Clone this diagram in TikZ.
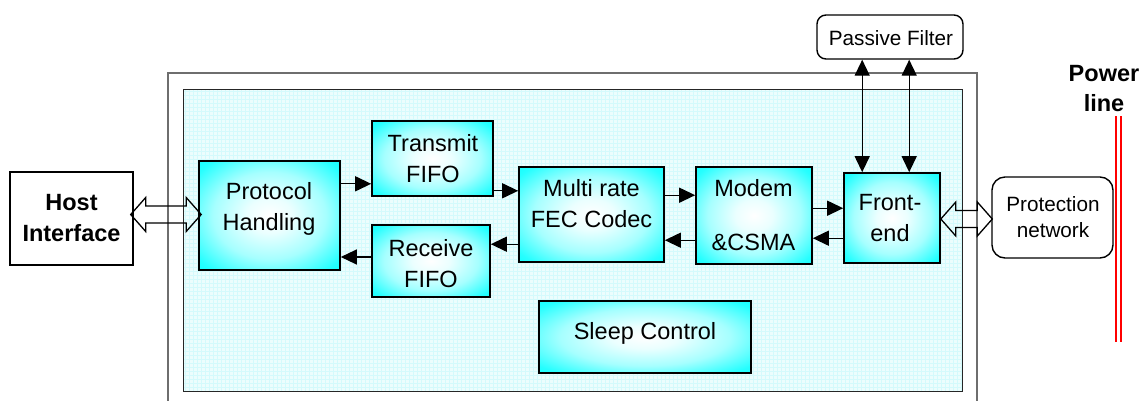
\documentclass[tikz,border=0pt]{standalone}
\usepackage{fontspec}
\setmainfont{Liberation Sans}
\usetikzlibrary{calc,arrows.meta}
\definecolor{bgfill}{RGB}{236,253,253}
\definecolor{bggrid}{RGB}{212,250,252}
\definecolor{framegray}{RGB}{110,110,110}
\definecolor{boxcyan}{RGB}{0,255,255}
\pgfdeclareradialshading{boxshade}{\pgfpoint{0bp}{0bp}}{%
  color(0bp)=(white); color(8bp)=(boxcyan!8); color(20bp)=(boxcyan!35); color(32bp)=(boxcyan!85); color(40bp)=(boxcyan); color(50bp)=(boxcyan)}
\tikzset{
  blk/.style={draw=black, line width=1.6pt, inner sep=0pt, shading=boxshade},
  wbox/.style={draw=black, line width=1.4pt, fill=white, inner sep=0pt},
  rbox/.style={draw=black, line width=1.4pt, fill=white, rounded corners=9pt, inner sep=0pt},
  txt/.style={font=\fontsize{23.5}{31}\selectfont, align=center, inner sep=0pt, anchor=north},
  stxt/.style={font=\fontsize{20.7}{26}\selectfont, align=center, inner sep=0pt, anchor=north},
  arr/.style={line width=1.3pt, -{Triangle[length=16pt,width=15pt]}},
  darr/.style={line width=1.3pt, {Triangle[length=16pt,width=15pt]}-{Triangle[length=16pt,width=15pt]}},
  hollow/.style={line width=1.3pt, draw=black, line join=miter},
}
\newcommand{\hollowarrow}[2]{%
  \draw[hollow] let \p1=(#1), \p2=(#2) in
    (\x1,\y1) -- (\x1+15pt,\y1+17pt) -- (\x1+15pt,\y1+8.5pt) -- (\x2-15pt,\y1+8.5pt)
    -- (\x2-15pt,\y1+17pt) -- (\x2,\y1) -- (\x2-15pt,\y1-17pt) -- (\x2-15pt,\y1-8.5pt)
    -- (\x1+15pt,\y1-8.5pt) -- (\x1+15pt,\y1-17pt) -- cycle;}
\begin{document}
\begin{tikzpicture}[x=1pt,y=-1pt]
\useasboundingbox (0,0) rectangle (1141,400);
% outer frame and inner area
\draw[framegray, line width=1.3pt] (168,410) -- (168,73) -- (977,73) -- (977,410);
\fill[bgfill] (183,89) rectangle (962,391);
\begin{scope}
  \clip (183,89) rectangle (962,391);
  \foreach \gx in {185,189,...,962} \draw[bggrid, line width=0.5pt] (\gx,89) -- (\gx,391);
  \foreach \gy in {91,95,...,391} \draw[bggrid, line width=0.5pt] (183,\gy) -- (962,\gy);
\end{scope}
\draw[black!85, line width=1pt] (183,89) rectangle (962,391);

% boxes
\node[wbox, minimum width=123pt, minimum height=93pt] (host) at (71.5,218.5) {};
\node[blk, minimum width=141pt, minimum height=109pt] (proto) at (269.5,215.5) {};
\node[blk, minimum width=121pt, minimum height=75pt] (tx) at (432.5,158.5) {};
\node[blk, minimum width=118pt, minimum height=72pt] (rx) at (431,261) {};
\node[blk, minimum width=145pt, minimum height=95pt] (fec) at (591.5,214.5) {};
\node[blk, minimum width=116pt, minimum height=97pt] (modem) at (754,215.5) {};
\node[blk, minimum width=96pt, minimum height=90pt] (fe) at (892,218) {};
\node[blk, minimum width=212pt, minimum height=72pt] (sleep) at (645,337) {};
\node[rbox, minimum width=146pt, minimum height=44pt] (pf) at (890,37) {};
\node[rbox, rounded corners=13pt, minimum width=121pt, minimum height=81pt] (prot) at (1052.5,217.5) {};

% texts
\node[txt, font=\fontsize{23.5}{31}\selectfont\bfseries] (hostT) at (71.5,188.3) {\strut Host\\Interface};
\node[txt] (protoT) at (269,177.3) {\strut Protocol\\Handling};
\node[txt] (txT) at (433,129.3) {\strut Transmit\\FIFO};
\node[txt] (rxT) at (431,234.3) {\strut Receive\\FIFO};
\node[txt] (fecT) at (591.5,174.3) {\strut Multi rate\\FEC Codec};
\node[txt] (modemT) at (753.5,174.3) {\strut Modem\\[23pt]\&CSMA};
\node[txt] (feT) at (890,188.3) {\strut Front-\\end};
\node[txt] (sleepT) at (645,317.3) {\strut Sleep Control};
\node[stxt] (pfT) at (891,26.8) {\strut Passive Filter};
\node[stxt] (protT) at (1053,192.8) {\strut Protection\\network};
\node[txt, font=\fontsize{23.5}{30}\selectfont\bfseries] (powerT) at (1104,60.3) {\strut Power\\line};

% power line
\draw[red, line width=1.6pt] (1116,116) -- (1116,342);
\draw[red, line width=1.6pt] (1121,116) -- (1121,342);

% connectors
\coordinate (t1) at ($(tx.south west)+(0,-13)$);
\coordinate (r1) at ($(rx.west)+(0,-4)$);
\coordinate (t2) at ($(tx.south east)+(0,-6)$);
\coordinate (r2) at ($(rx.north east)+(0,20)$);
\coordinate (f1) at ($(fec.north east)+(0,29)$);
\coordinate (f2) at ($(fec.north east)+(0,74)$);
\coordinate (m1) at ($(fe.north west)+(0,36)$);
\coordinate (m2) at ($(fe.north west)+(0,66)$);
\coordinate (p1) at ($(fe.north west)+(19,0)$);
\coordinate (p2) at ($(fe.north west)+(66,0)$);
\draw[arr] (proto.east |- t1) -- (t1);
\draw[arr] (r1) -- (proto.east |- r1);
\draw[arr] (t2) -- (fec.west |- t2);
\draw[arr] (fec.west |- r2) -- (r2);
\draw[arr] (f1) -- (modem.west |- f1);
\draw[arr] (modem.west |- f2) -- (f2);
\draw[arr] (modem.east |- m1) -- (m1);
\draw[arr] (m2) -- (modem.east |- m2);
\draw[darr] (pf.south -| p1) -- (p1);
\draw[darr] (pf.south -| p2) -- (p2);
\hollowarrow{$(host.east)+(-3,-4)$}{$(proto.west)+(3,0)$}
\hollowarrow{$(fe.east)+(0,1)$}{$(prot.west)+(1,0)$}
\end{tikzpicture}
\end{document}
